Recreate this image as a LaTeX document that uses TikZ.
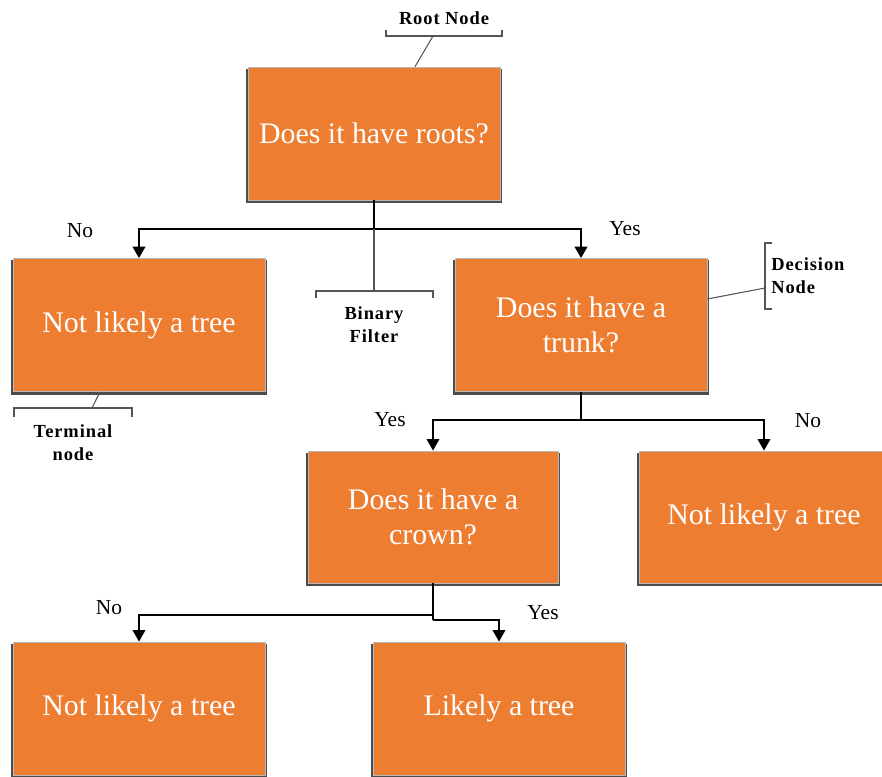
\documentclass[tikz,border=0pt]{standalone}
\usepackage{fontspec}
\setmainfont{Liberation Serif}
\newfontfamily\annfont[LetterSpace=5]{Liberation Serif}
\usetikzlibrary{arrows.meta,calc}
\definecolor{boxorange}{HTML}{ED7D31}
\definecolor{anngray}{HTML}{555555}
\pgfdeclarelayer{background}
\pgfsetlayers{background,main}
\begin{document}
\begin{tikzpicture}[x=0.02cm,y=-0.02cm,
  box/.style={fill=boxorange, draw=gray!55, line width=0.4pt, text=white,
    minimum width=5.04cm, minimum height=2.66cm, inner sep=0pt, align=center,
    font=\fontsize{17}{20}\selectfont},
  conn/.style={line width=1.15pt, draw=black},
  arr/.style={-{Triangle[width=7pt,length=6.5pt]}},
  lbl/.style={font=\fontsize{12.2}{14}\selectfont, inner sep=0pt},
  ann/.style={draw=anngray, line width=0.6pt},
  anntext/.style={font=\annfont\bfseries\fontsize{10.5}{13.3}\selectfont, inner sep=0pt, align=center}]
\useasboundingbox (0,0) rectangle (882,777);
\clip (0,0) rectangle (882,777);

% boxes
\node[box] (root) at (374,133.5) {Does it have roots?};
\node[box] (noA) at (139,325) {Not likely a tree};
\node[box] (trunk) at (581,325) {Does it have a\\trunk?};
\node[box, minimum width=5cm, minimum height=2.64cm] (crown) at (433,517) {Does it have a\\crown?};
\node[box, minimum width=5cm, minimum height=2.64cm] (noB) at (764,517) {Not likely a tree};
\node[box] (noC) at (139,708.5) {Not likely a tree};
\node[box] (yes) at (499,708.5) {Likely a tree};

\begin{pgfonlayer}{background}
\foreach \n in {root,noA,trunk,crown,noB,noC,yes}
  \fill[black!70] ($(\n.south west)+(-2,3)$) rectangle ($(\n.north east)+(2,2)$);
\end{pgfonlayer}

% connectors
\coordinate (j1) at (374,229);
\draw[conn, line width=1.6pt] (root.south) -- (j1);
\draw[conn, arr, line width=1.4pt] (j1) -| (noA.north);
\draw[conn, arr, line width=1.4pt] (j1) -| (trunk.north);

\coordinate (j2) at (581,420);
\draw[conn] (trunk.south) -- (j2);
\draw[conn, arr] (j2) -| (crown.north);
\draw[conn, arr] (j2) -| (noB.north);

\coordinate (j3) at (433,615);
\coordinate (j4) at (433,620);
\draw[conn] (crown.south) -- (j4);
\draw[conn, arr] (j3) -| (noC.north);
\draw[conn, arr] (j4) -| (yes.north);

% branch labels
\node[lbl] (l1) at (80,231) {No};
\node[lbl] (l2) at (625,229) {Yes};
\node[lbl] (l3) at (390,420) {Yes};
\node[lbl] (l4) at (808,421) {No};
\node[lbl] (l5) at (109,608) {No};
\node[lbl] (l6) at (543,613) {Yes};

% annotations
\node[anntext] (rootlbl) at (444,18) {Root Node};
\coordinate (rb) at (433,36);
\draw[ann] (386,30) -- (386,36) -- (502,36) -- (502,30);
\draw[ann] (rb) -- ($(root.north)+(41,0)$);

\coordinate (bf) at (374,291);
\draw[ann] (j1) -- (bf);
\draw[ann] (316,298) -- (316,291) -- (433,291) -- (433,298);
\node[anntext] (bflbl) at (374,324.5) {Binary\\Filter};

\coordinate (tb) at (92,408);
\draw[ann] ($(noA.south)+(-39,0)$) -- (tb);
\draw[ann] (14,417) -- (14,408) -- (132,408) -- (132,417);
\node[anntext] (tlbl) at (73,442.5) {Terminal\\node};

\coordinate (db) at (765,288);
\draw[ann] ($(trunk.east)+(0,-26)$) -- (db);
\draw[ann] (772,243) -- (765,243) -- (765,309) -- (772,309);
\node[anntext, anchor=west, align=left] (dlbl) at (771,276) {Decision\\Node};
\end{tikzpicture}
\end{document}
